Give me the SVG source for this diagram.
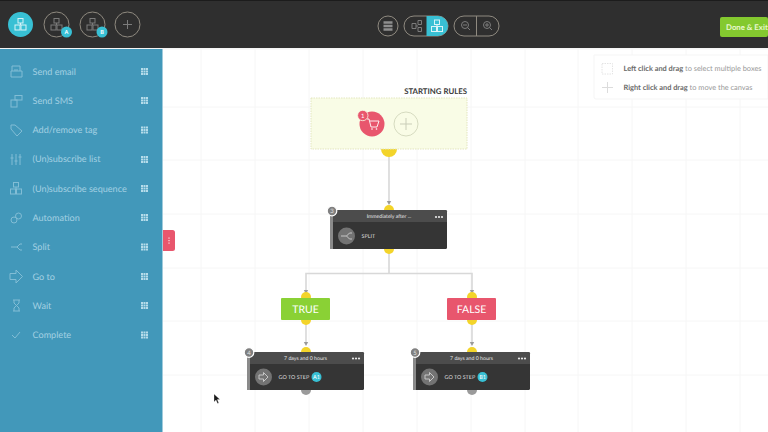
<svg xmlns="http://www.w3.org/2000/svg" width="768" height="432" viewBox="0 0 768 432">
<style>
text{font-family:Lato,"Liberation Sans",sans-serif;text-rendering:geometricPrecision}
.grid{stroke:#f6f6f6;stroke-width:1;fill:none}
.side{font-size:9.100px;fill:#a2d0e2}
.ic{fill:none;stroke:#82bdd5;stroke-width:1}
.hic{fill:none;stroke:#7c7c7c;stroke-width:1}
.hw{fill:none;stroke:#d8f3f8;stroke-width:1}
.ring{fill:#2f2f2f;stroke:#8f8a80;stroke-width:1}
.conn{stroke:#d8d8d8;stroke-width:1.600;fill:none}
.yel{fill:#f3d42a}
.card{fill:#353535}
.cardh{fill:#4c4c4c}
.ct{font-size:5.200px;fill:#e8e8e8;text-anchor:middle}
.cl{font-size:5.400px;fill:#dddddd}
.num{font-size:6px;fill:#e0e0e0;text-anchor:middle}
.bad{fill:#808080;stroke:#ffffff;stroke-width:1.200}
.dots{fill:#e8e8e8}
.big{font-size:10.500px;fill:#ffffff;text-anchor:middle}
</style>
<defs>
<g id="dg" fill="#b5dcea">
<rect x="-3.500" y="-3.500" width="2" height="2"/><rect x="-1" y="-3.500" width="2" height="2"/><rect x="1.500" y="-3.500" width="2" height="2"/>
<rect x="-3.500" y="-1" width="2" height="2"/><rect x="-1" y="-1" width="2" height="2"/><rect x="1.500" y="-1" width="2" height="2"/>
<rect x="-3.500" y="1.500" width="2" height="2"/><rect x="-1" y="1.500" width="2" height="2"/><rect x="1.500" y="1.500" width="2" height="2"/>
</g>
<g id="tree">
<rect x="-2.500" y="-6" width="5" height="4.500"/><rect x="-5.500" y="0.500" width="5" height="5"/><rect x="0.500" y="0.500" width="5" height="5"/>
<path d="M0-1.500V0.500"/>
</g>
<g id="threedots" class="dots"><circle cx="-3" cy="0" r="1.100"/><circle cx="0" cy="0" r="1.100"/><circle cx="3" cy="0" r="1.100"/></g>
<path id="arr" d="M-6-3H0V-6.500L6.500 0 0 6.500V3H-6Z"/>
<path id="arr2" d="M-4.500-2H0V-4.500L4.500 0 0 4.500V2H-4.500Z"/>
</defs>

<rect width="768" height="432" fill="#ffffff"/>
<g id="canvas-grid">
<path class="grid" d="M201 49V432M255 49V432M309 49V432M363 49V432M417 49V432M471 49V432M525 49V432M578 49V432M632 49V432M686 49V432M740 49V432M163 107H768M163 160H768M163 214H768M163 268H768M163 321H768M163 375H768"/>
</g>

<g id="header">
<rect width="768" height="48" fill="#2f2f2f"/>
<rect width="768" height="1" fill="#1c1c1c"/>
<circle cx="20.500" cy="24.500" r="12.500" fill="#38c0d4"/>
<use href="#tree" class="hw" x="20.500" y="24.500"/>
<circle class="ring" cx="56.500" cy="24.500" r="12.500"/>
<use href="#tree" class="hic" x="56.500" y="24.500"/>
<circle cx="66.500" cy="32" r="5.500" fill="#38c0d4"/>
<text x="66.500" y="34" font-size="5.500" font-weight="700" fill="#fff" text-anchor="middle">A</text>
<circle class="ring" cx="92.500" cy="24.500" r="12.500"/>
<use href="#tree" class="hic" x="92.500" y="24.500"/>
<circle cx="102" cy="32" r="5.500" fill="#38c0d4"/>
<text x="102" y="34" font-size="5.500" font-weight="700" fill="#fff" text-anchor="middle">B</text>
<circle class="ring" cx="127.500" cy="24.500" r="12.500"/>
<path class="hic" d="M127.500 20V29M123 24.500H132"/>

<circle class="ring" cx="388" cy="26" r="10"/>
<path d="M383.500 22.500H392.500M383.500 26H392.500M383.500 29.500H392.500" stroke="#8e8e8e" stroke-width="2.500" fill="none"/>
<rect x="404" y="16" width="44" height="20" rx="10" fill="#2f2f2f" stroke="#8f8a80"/>
<path d="M426.500 16H438A10 10 0 0 1 448 26A10 10 0 0 1 438 36H426.500Z" fill="#38c0d4"/>
<path class="hic" d="M412 23.500h4v5h-4zM418 20.500h3.500v4h-3.500zM418 27.500h3.500v4h-3.500zM416 26h2" stroke="#a0a0a0"/>
<use href="#tree" class="hw" x="437" y="26"/>
<rect x="454" y="16" width="45" height="20" rx="10" fill="#2f2f2f" stroke="#8f8a80"/>
<path d="M476.500 16V36" stroke="#8f8a80"/>
<circle class="hic" cx="465" cy="25" r="3.500"/><path class="hic" d="M467.500 27.500L470 30M463 25H467"/>
<circle class="hic" cx="487" cy="25" r="3.500"/><path class="hic" d="M489.500 27.500L492 30M485 25H489M487 23V27"/>
<rect x="720" y="17" width="48" height="20" rx="2" fill="#84c92f"/>
<text x="726" y="29.500" font-size="7.800" font-weight="700" fill="#e8f8d0">Done &amp; Exit</text>
</g>
<rect x="0" y="48" width="768" height="1.500" fill="#f4f4f4"/>

<g id="sidebar">
<rect x="0" y="49" width="162.500" height="383" fill="#4298ba"/>
<g id="item-email"><path class="ic" d="M12 71V66H20V71M11 71H22V77H11ZM14 70H18"/><text class="side" x="32.500" y="75">Send email</text><use href="#dg" x="144.500" y="71.500"/></g>
<g id="item-sms"><rect class="ic" x="11" y="100" width="6" height="7"/><rect class="ic" x="15" y="95.500" width="7" height="4.500"/><text class="side" x="32.500" y="104">Send SMS</text><use href="#dg" x="144.500" y="100.500"/></g>
<g id="item-tag"><path class="ic" d="M11 125H15L22 131 17 136 11 129Z"/><text class="side" x="32.500" y="133">Add/remove tag</text><use href="#dg" x="144.500" y="130"/></g>
<g id="item-list"><path class="ic" d="M12 154V165M16 154V165M20 154V165M10.500 158H13.500M14.500 161H17.500M18.500 157H21.500"/><text class="side" x="32.500" y="162">(Un)subscribe list</text><use href="#dg" x="144.500" y="159.500"/></g>
<g id="item-seq"><use href="#tree" class="ic" x="16" y="188.500"/><text class="side" x="32.500" y="191.500">(Un)subscribe sequence</text><use href="#dg" x="144.500" y="188.500"/></g>
<g id="item-auto"><circle class="ic" cx="18.500" cy="216" r="3"/><circle class="ic" cx="14" cy="220" r="3"/><text class="side" x="32.500" y="221">Automation</text><use href="#dg" x="144.500" y="217.500"/></g>
<g id="item-split"><path class="ic" d="M11 247H17L20 244H22M17 247L20 250H22"/><text class="side" x="32.500" y="250">Split</text><use href="#dg" x="144.500" y="247"/></g>
<g id="item-goto"><use href="#arr" class="ic" x="16" y="276.500"/><text class="side" x="32.500" y="279.500">Go to</text><use href="#dg" x="144.500" y="276.500"/></g>
<g id="item-wait"><path class="ic" d="M13 300H20M13 311H20M14 300V303L19 308V311M19 300V303L14 308V311"/><text class="side" x="32.500" y="309">Wait</text><use href="#dg" x="144.500" y="305.500"/></g>
<g id="item-complete"><path class="ic" d="M12 335L15 338 20 332"/><text class="side" x="32.500" y="338">Complete</text><use href="#dg" x="144.500" y="335"/></g>
</g>
<g id="collapse-tab">
<path d="M163 230H172.500A2.500 2.500 0 0 1 175 232.500V248.500A2.500 2.500 0 0 1 172.500 251H163Z" fill="#e8566d"/>
<path d="M169 237.500V238.700M169 240V241.200M169 242.500V243.700" stroke="#ffffff" stroke-width="1"/>
</g>

<g id="hint-panel">
<path d="M594 55H768V99H596A2 2 0 0 1 594 97Z" fill="#ffffff" stroke="#f5f5f5"/>
<rect x="602" y="63.500" width="10.500" height="10.500" fill="none" stroke="#e4e4e4" stroke-dasharray="1.500 1"/>
<path d="M607.500 82V93M602 87.500H613" stroke="#dcdcdc" fill="none"/>
<text x="623.500" y="71" font-size="7.400" fill="#999999"><tspan font-weight="700" fill="#6a6a6a">Left click and drag</tspan> to select multiple boxes</text>
<text x="623.500" y="89.500" font-size="7.400" fill="#999999"><tspan font-weight="700" fill="#6a6a6a">Right click and drag</tspan> to move the canvas</text>
</g>

<g id="connectors">
<path class="conn" d="M389 155V203"/>
<path d="M386.800 201H391.200L389 205Z" fill="#9a9a9a"/>
<path class="conn" d="M389 250V273M306 293V273.500H472V293"/>
<path d="M303.800 290H308.200L306 294Z" fill="#9a9a9a"/>
<path d="M469.800 290H474.200L472 294Z" fill="#9a9a9a"/>
<path class="conn" d="M306 322V344"/>
<path d="M303.800 342H308.200L306 346Z" fill="#9a9a9a"/>
<path class="conn" d="M472 322V344"/>
<path d="M469.800 342H474.200L472 346Z" fill="#9a9a9a"/>
</g>

<g id="starting-rules">
<text x="467" y="93.500" font-size="7.800" font-weight="700" fill="#3a3a3a" text-anchor="end">STARTING RULES</text>
<path class="yel" d="M381 149A8 8 0 0 0 397 149Z"/>
<rect x="311" y="98" width="156" height="51" fill="#f9fce6" stroke="#e3e6bf" stroke-dasharray="1.500 1"/>
<circle cx="372" cy="124" r="12.500" fill="#e8566d"/>
<path d="M367 119H369L371 127H377L379 121H370" fill="none" stroke="#ffffff" stroke-width=".9"/>
<circle cx="372" cy="129" r=".8" fill="#fff"/><circle cx="376.500" cy="129" r=".8" fill="#fff"/>
<circle cx="362.800" cy="115.500" r="5.200" fill="#e8566d" stroke="#f9fce6" stroke-width=".8"/>
<text x="362.800" y="117.600" font-size="6" fill="#fff" text-anchor="middle">1</text>
<circle cx="406" cy="124" r="12" fill="none" stroke="#d6dbc0" stroke-width="1"/>
<path d="M406 118V130M400 124H412" stroke="#c9cdb8" stroke-width="1"/>
</g>

<g id="node-3">
<circle class="yel" cx="389" cy="210" r="5"/>
<circle class="yel" cx="389" cy="249" r="5"/>
<rect x="330" y="210" width="117" height="39" rx="1.500" class="card"/>
<path d="M333 210H445.500A1.500 1.500 0 0 1 447 211.500V222H333Z" class="cardh"/>
<rect x="330" y="214" width="3" height="35" fill="#8a8a8a"/>
<circle class="bad" cx="332" cy="211" r="4.800"/>
<text class="num" x="332" y="213">3</text>
<text class="ct" x="389" y="218">Immediately after ...</text>
<use href="#threedots" x="439" y="217"/>
<circle cx="346.500" cy="236" r="8.500" fill="#737373"/>
<path d="M341 236H346.500L349.500 233H352M346.500 236L349.500 239H352" fill="none" stroke="#cfcfcf" stroke-width=".9"/>
<text class="cl" x="361.500" y="237.800">SPLIT</text>
</g>

<g id="node-true">
<circle class="yel" cx="306" cy="297" r="5"/>
<circle class="yel" cx="306" cy="320" r="5"/>
<rect x="281" y="298" width="49" height="22" rx="1" fill="#8ad135"/>
<text class="big" x="305.500" y="313">TRUE</text>
</g>
<g id="node-false">
<circle class="yel" cx="472" cy="297" r="5"/>
<circle class="yel" cx="472" cy="320" r="5"/>
<rect x="447" y="298" width="49" height="22" rx="1" fill="#e8566d"/>
<text class="big" x="471.500" y="313">FALSE</text>
</g>

<g id="node-4">
<circle class="yel" cx="306" cy="352" r="5"/>
<circle cx="306" cy="390" r="5" fill="#9a9a9a"/>
<rect x="247" y="352" width="117" height="38" rx="1.500" class="card"/>
<path d="M250 352H362.500A1.500 1.500 0 0 1 364 353.500V364H250Z" class="cardh"/>
<rect x="247" y="356" width="3" height="34" fill="#8a8a8a"/>
<circle class="bad" cx="249" cy="352.500" r="4.800"/>
<text class="num" x="249" y="354.500">4</text>
<text class="ct" x="305.500" y="360">7 days and 0 hours</text>
<use href="#threedots" x="356" y="358.500"/>
<circle cx="263.500" cy="377" r="8.500" fill="#737373"/>
<use href="#arr2" x="263.500" y="377" fill="none" stroke="#cfcfcf" stroke-width=".9"/>
<text class="cl" x="278.500" y="379">GO TO STEP</text>
<circle cx="316.500" cy="377" r="5" fill="#38c0d4"/>
<text x="316.500" y="379" font-size="5.500" fill="#fff" text-anchor="middle">A1</text>
</g>

<g id="node-5">
<circle class="yel" cx="472" cy="352" r="5"/>
<circle cx="472" cy="390" r="5" fill="#9a9a9a"/>
<rect x="413" y="352" width="117" height="38" rx="1.500" class="card"/>
<path d="M416 352H528.500A1.500 1.500 0 0 1 530 353.500V364H416Z" class="cardh"/>
<rect x="413" y="356" width="3" height="34" fill="#8a8a8a"/>
<circle class="bad" cx="415" cy="352.500" r="4.800"/>
<text class="num" x="415" y="354.500">5</text>
<text class="ct" x="471.500" y="360">7 days and 0 hours</text>
<use href="#threedots" x="522" y="358.500"/>
<circle cx="429.500" cy="377" r="8.500" fill="#737373"/>
<use href="#arr2" x="429.500" y="377" fill="none" stroke="#cfcfcf" stroke-width=".9"/>
<text class="cl" x="444.500" y="379">GO TO STEP</text>
<circle cx="482.500" cy="377" r="5" fill="#38c0d4"/>
<text x="482.500" y="379" font-size="5.500" fill="#fff" text-anchor="middle">B1</text>
</g>

<path id="cursor" d="M214 394V402L216 400 217.500 403.500 218.800 403 217.300 399.500H220Z" fill="#1a1a1a" stroke="#fff" stroke-width=".3"/>
</svg>
